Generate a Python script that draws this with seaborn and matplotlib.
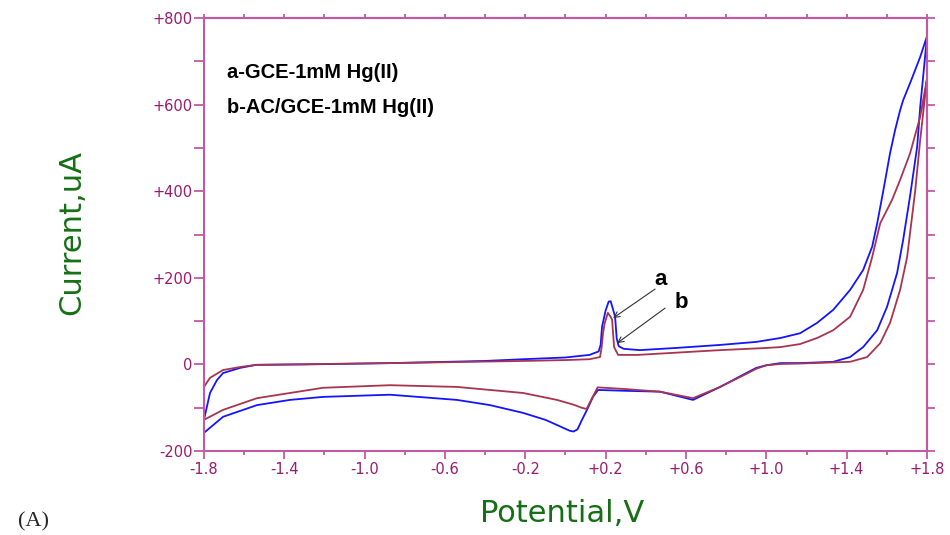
import numpy as np
import pandas as pd
import matplotlib
matplotlib.use('Agg')
import matplotlib.pyplot as plt
import seaborn as sns
from matplotlib.ticker import FixedLocator, FuncFormatter

# curve a (GCE), forward scan then reverse scan
a_fwd_v = [-1.80, -1.77, -1.735, -1.705, -1.62, -1.54, -1.29, -0.87, -0.40, -0.21, 0.00, 0.12, 0.165,
           0.175, 0.182, 0.20, 0.215, 0.225, 0.235, 0.247, 0.255, 0.265, 0.29, 0.37, 0.55, 0.77, 0.95,
           1.07, 1.168, 1.253, 1.333, 1.417, 1.482, 1.527, 1.552, 1.582, 1.616, 1.641, 1.666, 1.681,
           1.716, 1.766, 1.80]
a_fwd_i = [-128, -66, -36, -20, -8, -1, 0, 3, 8, 12, 16, 22, 30,
           45, 87, 125, 145, 146, 130, 110, 60, 42, 36, 33, 38, 45, 52,
           61, 72, 96, 126, 172, 218, 272, 326, 400, 488, 541, 587, 610,
           650, 710, 758]
a_rev_v = [1.795, 1.766, 1.751, 1.716, 1.681, 1.651, 1.601, 1.552, 1.482, 1.417, 1.333, 1.168, 1.07,
           1.00, 0.95, 0.90, 0.77, 0.635, 0.471, 0.30, 0.162, 0.137, 0.107, 0.08, 0.06, 0.04, 0.02,
           -0.042, -0.10, -0.211, -0.376, -0.54, -0.874, -1.207, -1.372, -1.536, -1.705, -1.80]
a_rev_i = [733, 594, 503, 390, 287, 211, 133, 79, 40, 17, 6, 3, 3,
           -2, -8, -20, -52, -82, -63, -61, -59, -75, -105, -130, -150, -155, -153,
           -140, -128, -112, -94, -82, -70, -75, -82, -94, -121, -158]

# curve b (AC/GCE)
b_fwd_v = [-1.80, -1.77, -1.705, -1.62, -1.54, -0.87, -0.21, 0.00, 0.12, 0.172, 0.18, 0.187, 0.195,
           0.211, 0.225, 0.232, 0.242, 0.262, 0.36, 0.77, 1.00, 1.07, 1.168, 1.253, 1.333, 1.417,
           1.482, 1.527, 1.567, 1.601, 1.626, 1.666, 1.716, 1.766, 1.80]
b_fwd_i = [-52, -31, -13, -6, -1, 3, 8, 10, 12, 17, 40, 72, 95,
           119, 110, 103, 40, 22, 22, 33, 38, 40, 47, 61, 79, 110,
           172, 248, 326, 357, 380, 426, 488, 572, 660]
b_rev_v = [1.795, 1.766, 1.741, 1.701, 1.666, 1.616, 1.567, 1.502, 1.417, 1.168, 1.07, 1.00, 0.95,
           0.90, 0.77, 0.635, 0.471, 0.30, 0.16, 0.13, 0.105, 0.08, 0.04, -0.042, -0.211, -0.376,
           -0.54, -0.874, -1.207, -1.372, -1.536, -1.705, -1.80]
b_rev_i = [640, 518, 400, 248, 172, 96, 49, 17, 6, 2, 1, -2, -10,
           -22, -52, -78, -63, -57, -53, -80, -103, -100, -93, -82, -66, -59,
           -52, -48, -54, -66, -78, -105, -128]

x_ticks = [-1.8, -1.4, -1.0, -0.6, -0.2, 0.2, 0.6, 1.0, 1.4, 1.8]
x_minor = [-1.6, -1.2, -0.8, -0.4, 0.0, 0.4, 0.8, 1.2, 1.6]
y_ticks = [-200, 0, 200, 400, 600, 800]
y_minor = [-100, 100, 300, 500, 700]

legend_lines = ['a-GCE-1mM Hg(II)', 'b-AC/GCE-1mM Hg(II)']

spine_col = '#c05aa2'
tick_col = '#9a1a6e'
label_col = '#157015'
blue = '#1414ff'
red = '#a8344f'

frames = []
for name, v, i in [('a', a_fwd_v + a_rev_v, a_fwd_i + a_rev_i), ('b', b_fwd_v + b_rev_v, b_fwd_i + b_rev_i)]:
    frames.append(pd.DataFrame({'potential': v, 'current': i, 'curve': name}))
cv = pd.concat(frames, ignore_index=True)

sns.set_style('white')
plt.rcParams['font.family'] = ['DejaVu Sans']

fig = plt.figure(figsize=(9.5, 5.35), dpi=100)
ax = fig.add_axes([0.2147, 0.157, 0.7611, 0.8093])

sns.lineplot(data=cv, x='potential', y='current', hue='curve', palette={'a': blue, 'b': red},
             sort=False, estimator=None, legend=False, lw=1.3, ax=ax)

ax.set_xlim(-1.8, 1.8)
ax.set_ylim(-200, 800)

for s in ax.spines.values():
    s.set_color(spine_col)
    s.set_linewidth(1.5)

ax.xaxis.set_major_locator(FixedLocator(x_ticks))
ax.xaxis.set_minor_locator(FixedLocator(x_minor))
ax.yaxis.set_major_locator(FixedLocator(y_ticks))
ax.yaxis.set_minor_locator(FixedLocator(y_minor))
ax.xaxis.set_major_formatter(FuncFormatter(lambda v, p: f'{v:+.1f}'))
ax.yaxis.set_major_formatter(FuncFormatter(lambda v, p: '0' if abs(v) < 1e-9 else f'{v:+.0f}'))

ax.tick_params(axis='x', which='major', direction='out', length=6, width=1.3, color=spine_col,
               labelcolor=tick_col, labelsize=10.5, pad=2, bottom=True)
ax.tick_params(axis='x', which='minor', direction='out', length=3, width=1.3, color=spine_col, bottom=True)
ax.tick_params(axis='y', which='both', direction='out', length=7, width=1.3, color=spine_col,
               labelcolor=tick_col, labelsize=10.5, pad=1, left=True)

top = ax.secondary_xaxis('top')
top.xaxis.set_major_locator(FixedLocator(x_ticks + x_minor))
top.tick_params(direction='out', length=3, width=1.3, color=spine_col, labeltop=False)
top.spines['top'].set_color(spine_col)
top.spines['top'].set_linewidth(1.5)

right = ax.secondary_yaxis('right')
right.yaxis.set_major_locator(FixedLocator(y_ticks + y_minor))
right.tick_params(direction='out', length=6, width=1.3, color=spine_col, labelright=False)
right.spines['right'].set_color(spine_col)
right.spines['right'].set_linewidth(1.5)

ax.set_xlabel('Potential,V', color=label_col, fontsize=22)
ax.set_ylabel('Current,uA', color=label_col, fontsize=22)
ax.xaxis.set_label_coords(0.495, -0.11)
ax.yaxis.set_label_coords(-0.163, 0.505)

txt = dict(family='Liberation Sans', fontweight='bold', fontsize=14.5, color='black')
ax.text(-1.685, 675, legend_lines[0], va='center', ha='left', **txt)
ax.text(-1.685, 594, legend_lines[1], va='center', ha='left', **txt)

ab = dict(txt, fontsize=16)
ax.text(0.471, 197, 'a', va='center', ha='center', **ab)
ax.text(0.575, 142, 'b', va='center', ha='center', **ab)
ax.annotate('', xy=(0.237, 107), xytext=(0.446, 174),
            arrowprops=dict(arrowstyle='->', color='#333333', lw=0.8, shrinkA=0, shrinkB=0))
ax.annotate('', xy=(0.257, 49), xytext=(0.496, 130),
            arrowprops=dict(arrowstyle='->', color='#333333', lw=0.8, shrinkA=0, shrinkB=0))

fig.text(18 / 950, 1 - 522 / 535, '(A)', family='Liberation Serif', fontsize=16, va='center', ha='left')

fig.savefig('out.png', dpi=100)
